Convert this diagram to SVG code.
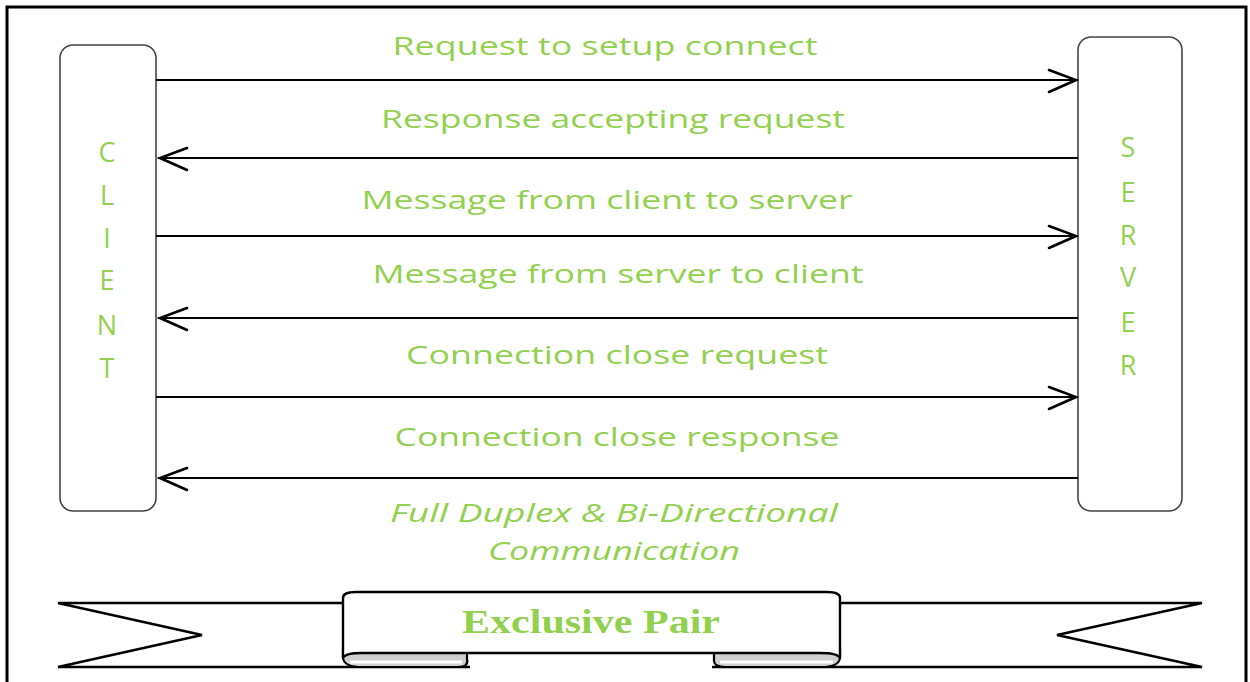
<svg xmlns="http://www.w3.org/2000/svg" width="1250" height="682" viewBox="0 0 1250 682">
<style>
.lbl{font-family:"Open Sans","Liberation Sans",sans-serif;font-size:26px;fill:#92D050;text-anchor:middle}
.it{font-style:italic}
.vert{font-family:"Open Sans","Liberation Sans",sans-serif;font-size:27px;fill:#92D050;text-anchor:middle}
.box{fill:#fff;stroke:#444;stroke-width:1.6}
.conn line{stroke:#000;stroke-width:2.2}
.head{fill:none;stroke:#000;stroke-width:2.6;stroke-linecap:round;stroke-linejoin:miter}
.ban{fill:#fff;stroke:#000;stroke-width:2.4;stroke-linejoin:miter}
.curl{fill:#d0d0d0;stroke:#000;stroke-width:2.2}
</style>
<rect width="1250" height="682" fill="#fff"/>
<rect x="7" y="7" width="1239" height="700" fill="none" stroke="#000" stroke-width="3"/>

<g id="client">
<rect class="box" x="60" y="45" width="96" height="466" rx="13"/>
<text class="vert" x="107" y="162">C</text>
<text class="vert" x="107" y="205">L</text>
<text class="vert" x="107" y="248">I</text>
<text class="vert" x="107" y="290">E</text>
<text class="vert" x="107" y="335">N</text>
<text class="vert" x="107" y="378">T</text>
</g>

<g id="server">
<rect class="box" x="1078" y="37" width="104" height="474" rx="13"/>
<text class="vert" x="1128" y="157">S</text>
<text class="vert" x="1128" y="202">E</text>
<text class="vert" x="1128" y="245">R</text>
<text class="vert" x="1128" y="287">V</text>
<text class="vert" x="1128" y="332">E</text>
<text class="vert" x="1128" y="375">R</text>
</g>

<g id="connectors" class="conn">
<line x1="156" y1="80" x2="1077" y2="80"/>
<path class="head" d="M1049,70 L1076,80 L1049,92"/>
<line x1="158" y1="158" x2="1078" y2="158"/>
<path class="head" d="M187,148 L160,158 L187,170"/>
<line x1="156" y1="236" x2="1077" y2="236"/>
<path class="head" d="M1049,226 L1076,236 L1049,248"/>
<line x1="158" y1="318" x2="1078" y2="318"/>
<path class="head" d="M187,308 L160,318 L187,330"/>
<line x1="156" y1="397" x2="1077" y2="397"/>
<path class="head" d="M1049,387 L1076,397 L1049,409"/>
<line x1="158" y1="478" x2="1078" y2="478"/>
<path class="head" d="M187,468 L160,478 L187,490"/>
</g>

<g id="labels">
<text class="lbl" x="605" y="55" textLength="425" lengthAdjust="spacingAndGlyphs">Request to setup connect</text>
<text class="lbl" x="613" y="128" textLength="464" lengthAdjust="spacingAndGlyphs">Response accepting request</text>
<text class="lbl" x="607" y="209" textLength="491" lengthAdjust="spacingAndGlyphs">Message from client to server</text>
<text class="lbl" x="618" y="283" textLength="491" lengthAdjust="spacingAndGlyphs">Message from server to client</text>
<text class="lbl" x="617" y="364" textLength="422" lengthAdjust="spacingAndGlyphs">Connection close request</text>
<text class="lbl" x="617" y="446" textLength="445" lengthAdjust="spacingAndGlyphs">Connection close response</text>
<text class="lbl it" x="614" y="522" textLength="448" lengthAdjust="spacingAndGlyphs">Full Duplex &amp; Bi-Directional</text>
<text class="lbl it" x="614" y="560" textLength="252" lengthAdjust="spacingAndGlyphs">Communication</text>
</g>

<g id="banner">
<path class="ban" d="M345,603 L58,603 L202,635 L58,667 L470,667"/>
<path class="ban" d="M838,603 L1202,603 L1057,635 L1202,667 L712,667"/>
<path class="curl" d="M343,650 L343,658 Q344,667 362,667 L458,667 Q469,667 467,659 L467,652 Z"/>
<path class="curl" d="M840,650 L840,658 Q839,667 821,667 L725,667 Q713,667 714,659 L714,652 Z"/>
<path d="M350,662 L462,662 M833,662 L720,662" stroke="#fff" stroke-width="3"/>
<path class="ban" d="M343,658 L343,598 Q343,592 356,592 L827,592 Q840,592 840,598 L840,658 Q838,653 820,653 L362,653 Q345,653 343,658 Z"/>
<text x="591" y="633" font-family="'Liberation Serif',serif" font-weight="bold" font-size="34" fill="#92D050" text-anchor="middle" textLength="258" lengthAdjust="spacingAndGlyphs">Exclusive Pair</text>
</g>
</svg>
